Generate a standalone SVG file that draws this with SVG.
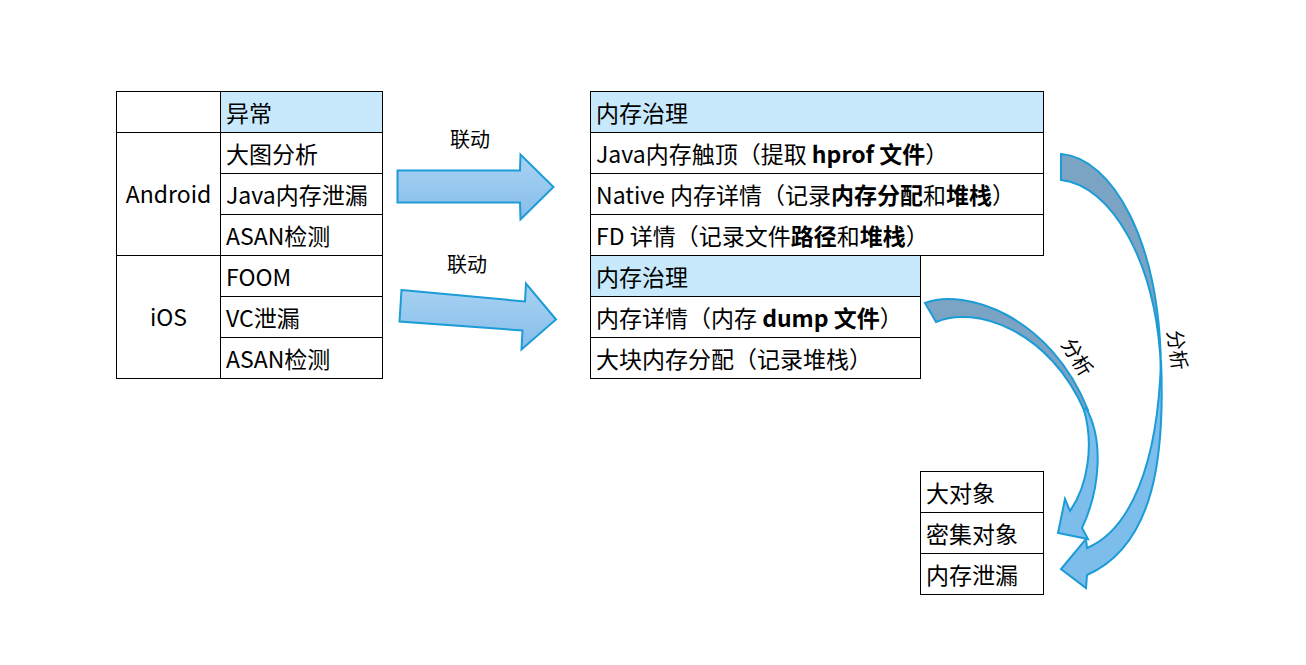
<svg xmlns="http://www.w3.org/2000/svg" width="1306" height="665" viewBox="0 0 1306 665">
<defs>
<style>
.cell{fill:#ffffff;stroke:#000000;stroke-width:1}
.hd{fill:#C7E9FB;stroke:#000000;stroke-width:1}
.t{font-family:"Noto Sans CJK SC","Noto Sans",sans-serif;font-size:23px;fill:#000000}
.lbl{font-family:"Noto Sans CJK SC",sans-serif;font-size:20px;fill:#000000}
.b{font-weight:bold}
.arr{fill:url(#g1);stroke:#1C9CD6;stroke-width:2;stroke-linejoin:miter}
.dark{fill:#7BA3C3;stroke:#1C9CD6;stroke-width:2}
.light{fill:#7DBDEB;stroke:#1C9CD6;stroke-width:2}
</style>
<linearGradient id="g1" x1="0" y1="0" x2="0" y2="1">
<stop offset="0" stop-color="#A9D3F3"/>
<stop offset="1" stop-color="#86BDE9"/>
</linearGradient>
</defs>
<rect width="1306" height="665" fill="#ffffff"/>

<g id="table-abnormal">
<rect class="cell" x="116.5" y="91.5" width="104" height="41"/>
<rect class="hd" x="220.5" y="91.5" width="162" height="41"/>
<rect class="cell" x="116.5" y="132.5" width="104" height="123"/>
<rect class="cell" x="116.5" y="255.5" width="104" height="123"/>
<rect class="cell" x="220.5" y="132.5" width="162" height="41"/>
<rect class="cell" x="220.5" y="173.5" width="162" height="41"/>
<rect class="cell" x="220.5" y="214.5" width="162" height="41"/>
<rect class="cell" x="220.5" y="255.5" width="162" height="41"/>
<rect class="cell" x="220.5" y="296.5" width="162" height="41"/>
<rect class="cell" x="220.5" y="337.5" width="162" height="41"/>
<text class="t" x="226" y="122">异常</text>
<text class="t" x="168.5" y="203" text-anchor="middle">Android</text>
<text class="t" x="168.5" y="326" text-anchor="middle">iOS</text>
<text class="t" x="226" y="163">大图分析</text>
<text class="t" x="226" y="204">Java内存泄漏</text>
<text class="t" x="226" y="245">ASAN检测</text>
<text class="t" x="226" y="286">FOOM</text>
<text class="t" x="226" y="327">VC泄漏</text>
<text class="t" x="226" y="368">ASAN检测</text>
</g>

<g id="table-android-gov">
<rect class="hd" x="590.5" y="91.5" width="453" height="41"/>
<rect class="cell" x="590.5" y="132.5" width="453" height="41"/>
<rect class="cell" x="590.5" y="173.5" width="453" height="41"/>
<rect class="cell" x="590.5" y="214.5" width="453" height="41"/>
<text class="t" x="596" y="122">内存治理</text>
<text class="t" x="596" y="163">Java内存触顶（提取 <tspan class="b">hprof 文件</tspan>）</text>
<text class="t" x="596" y="204">Native 内存详情（记录<tspan class="b">内存分配</tspan>和<tspan class="b">堆栈</tspan>）</text>
<text class="t" x="596" y="245">FD 详情（记录文件<tspan class="b">路径</tspan>和<tspan class="b">堆栈</tspan>）</text>
</g>

<g id="table-ios-gov">
<rect class="hd" x="590.5" y="255.5" width="330" height="41"/>
<rect class="cell" x="590.5" y="296.5" width="330" height="41"/>
<rect class="cell" x="590.5" y="337.5" width="330" height="41"/>
<text class="t" x="596" y="286">内存治理</text>
<text class="t" x="596" y="327">内存详情（内存 <tspan class="b">dump 文件</tspan>）</text>
<text class="t" x="596" y="368">大块内存分配（记录堆栈）</text>
</g>

<g id="table-result">
<rect class="cell" x="920.5" y="471.5" width="123" height="41"/>
<rect class="cell" x="920.5" y="512.5" width="123" height="41"/>
<rect class="cell" x="920.5" y="553.5" width="123" height="41"/>
<text class="t" x="926" y="502">大对象</text>
<text class="t" x="926" y="543">密集对象</text>
<text class="t" x="926" y="584">内存泄漏</text>
</g>

<g id="connectors">
<polygon class="arr" points="397.5,170.5 520,170.5 520.5,154.5 553.5,187 520.5,219.5 520,202.5 397.5,202.5"/>
<text class="lbl" x="470" y="147" text-anchor="middle">联动</text>
<polygon class="arr" points="401.5,290 525,301.5 526,283.5 556,319.5 521.5,349.5 522.5,330.5 399.5,321.5"/>
<text class="lbl" x="467" y="272" text-anchor="middle">联动</text>

<path class="dark" d="M1061,154 C1112,158 1160,240 1161,370 C1157,260 1110,185 1061,180 Z"/>
<path class="light" d="M1161,360 C1165,455 1155,545 1087,575 L1086,588 L1061,569 L1086,539 L1087,548 C1130,530 1158,465 1161,360 Z"/>
<text class="lbl" transform="translate(1170,351) rotate(82)" text-anchor="middle">分析</text>

<path class="dark" d="M925,303 C965,288 1050,315 1088,410 L1085,412 C1050,330 975,305 936,322 Z"/>
<path class="light" d="M1086,408 C1104,440 1100,490 1082,528 L1088,539 L1058,533 L1065,499 L1070,511 C1088,485 1094,445 1084,410 Z"/>
<text class="lbl" transform="translate(1071,361) rotate(58)" text-anchor="middle">分析</text>
</g>
</svg>
